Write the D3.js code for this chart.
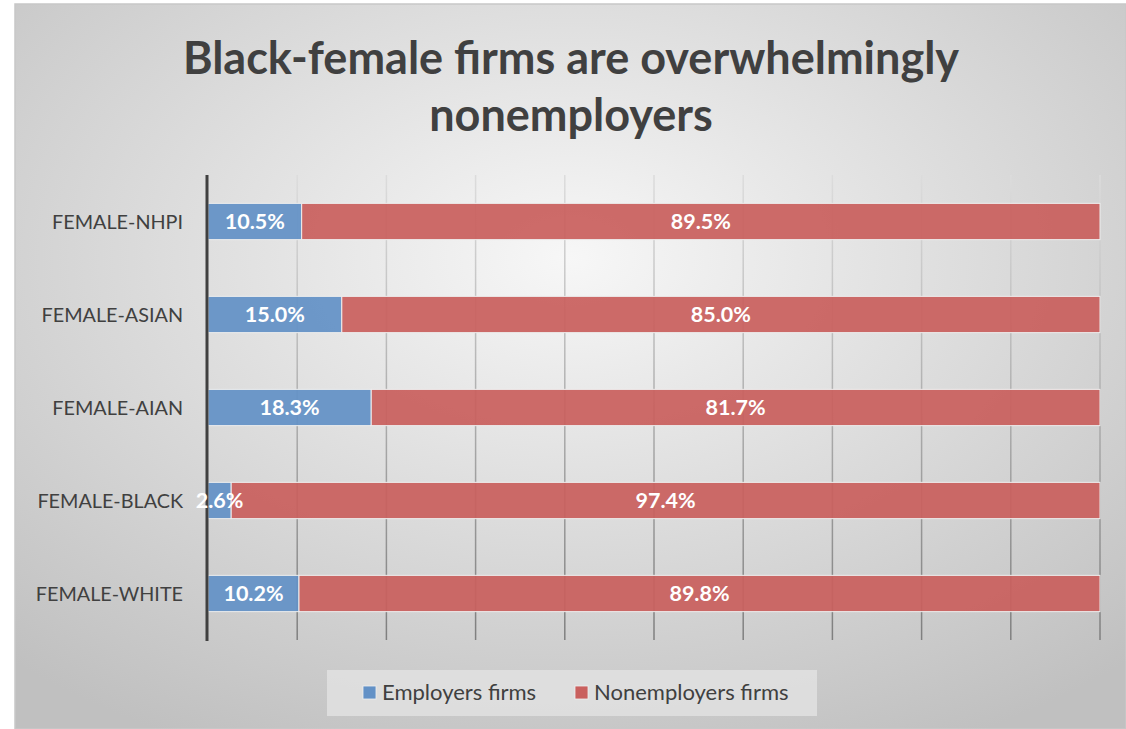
<!DOCTYPE html>
<meta charset="utf-8">
<head>
  <style>
    body { margin: 0; background: #ffffff; }
    .title { font-family: Lato, "Open Sans", sans-serif; font-weight: bold; font-size: 45px; fill: #404040; }
    .cat { font-family: Lato, "Open Sans", sans-serif; font-size: 19.8px; fill: #404040; }
    .val { font-family: Lato, "Open Sans", sans-serif; font-weight: bold; font-size: 21.5px; fill: #ffffff; }
    .leg { font-family: Lato, "Open Sans", sans-serif; font-size: 22px; fill: #404040; }
  </style>
</head>
<script src="https://d3js.org/d3.v7.min.js"></script>
<div id="chart"></div>
<script>
// data
const categories = ["FEMALE-NHPI", "FEMALE-ASIAN", "FEMALE-AIAN", "FEMALE-BLACK", "FEMALE-WHITE"];
const employers = [10.5, 15.0, 18.3, 2.6, 10.2];
const nonemployers = [89.5, 85.0, 81.7, 97.4, 89.8];
const seriesNames = ["Employers firms", "Nonemployers firms"];
const colors = ["#6391c6", "#c9605e"];

const W = 1126, H = 729;
const svg = d3.select("#chart").append("svg").attr("width", W).attr("height", H);

const defs = svg.append("defs");
const bg = defs.append("radialGradient").attr("id", "bg")
  .attr("cx", "50%").attr("cy", "35%").attr("r", "75%");
bg.append("stop").attr("offset", "0%").attr("stop-color", "#f7f7f7");
bg.append("stop").attr("offset", "100%").attr("stop-color", "#c0c0c0");

const grid = defs.append("linearGradient").attr("id", "grid")
  .attr("gradientUnits", "userSpaceOnUse")
  .attr("x1", 0).attr("y1", 175).attr("x2", 0).attr("y2", 640);
grid.append("stop").attr("offset", "0%").attr("stop-color", "#dcdcdc");
grid.append("stop").attr("offset", "100%").attr("stop-color", "#7f7f7f");

// chart area
svg.append("rect").attr("x", 15).attr("y", 4).attr("width", W - 15).attr("height", H - 4)
  .attr("fill", "url(#bg)").attr("stroke", "#c8c8c8").attr("stroke-width", 1.5);

// title
const title = svg.append("text").attr("class", "title").attr("text-anchor", "middle");
title.append("tspan").attr("x", 571).attr("y", 74).text("Black-female firms are overwhelmingly");
title.append("tspan").attr("x", 571).attr("y", 131).text("nonemployers");

const x = d3.scaleLinear().domain([0, 100]).range([208, 1100]);
const y = d3.scaleBand().domain(categories).range([175, 640]).paddingInner(0.61).paddingOuter(0.305);

// gridlines
svg.append("g").selectAll("line").data(x.ticks(10).slice(1)).join("line")
  .attr("x1", d => x(d)).attr("x2", d => x(d))
  .attr("y1", 175).attr("y2", 640)
  .attr("stroke", "url(#grid)").attr("stroke-width", 1.5);

// stacked bars
const rows = categories.map((c, i) => ({ cat: c, v: [employers[i], nonemployers[i]] }));
const segs = [];
rows.forEach(r => {
  let acc = 0;
  r.v.forEach((v, k) => {
    segs.push({ cat: r.cat, k: k, x0: acc, v: v });
    acc += v;
  });
});

svg.append("g").selectAll("rect").data(segs).join("rect")
  .attr("x", d => x(d.x0)).attr("y", d => y(d.cat))
  .attr("width", d => x(d.x0 + d.v) - x(d.x0)).attr("height", y.bandwidth())
  .attr("fill", d => colors[d.k]).attr("fill-opacity", 0.93)
  .attr("stroke", "#eeeeee").attr("stroke-width", 1);

// y axis
svg.append("line").attr("x1", 207).attr("x2", 207).attr("y1", 175).attr("y2", 641)
  .attr("stroke", "#404040").attr("stroke-width", 3);

svg.append("g").selectAll("text").data(segs).join("text")
  .attr("class", "val").attr("text-anchor", "middle")
  .attr("x", d => x(d.x0 + d.v / 2)).attr("y", d => y(d.cat) + y.bandwidth() / 2 + 7.5)
  .text(d => d.v.toFixed(1) + "%");

svg.append("g").selectAll("text").data(categories).join("text")
  .attr("class", "cat").attr("text-anchor", "end")
  .attr("x", 183).attr("y", d => y(d) + y.bandwidth() / 2 + 7)
  .text(d => d);

// legend
svg.append("rect").attr("x", 327).attr("y", 670).attr("width", 490).attr("height", 46)
  .attr("fill", "#e2e2e2").attr("fill-opacity", 0.8);
const legX = [363, 575];
seriesNames.forEach((n, i) => {
  svg.append("rect").attr("x", legX[i]).attr("y", 686).attr("width", 13).attr("height", 13)
    .attr("fill", colors[i]).attr("stroke", "#f0f0f0").attr("stroke-width", 0.8);
  svg.append("text").attr("class", "leg").attr("x", legX[i] + 19).attr("y", 700).text(n);
});
</script>
